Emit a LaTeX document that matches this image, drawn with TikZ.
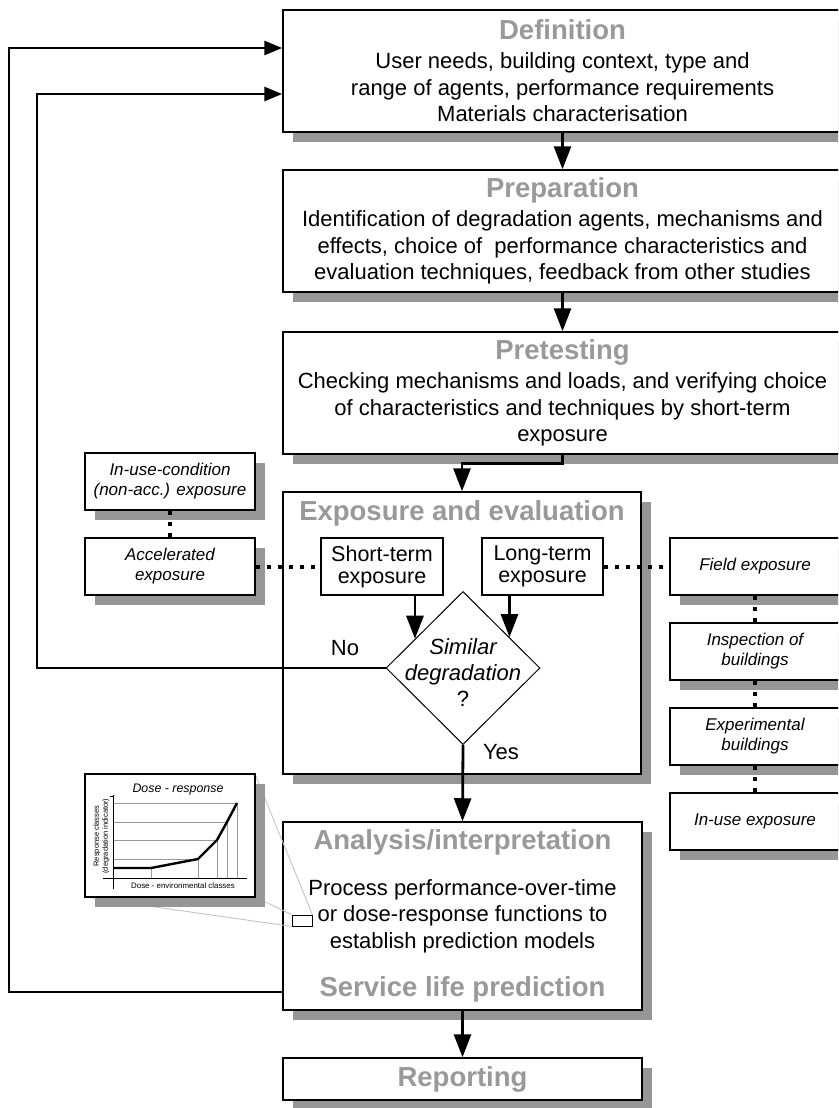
\documentclass[tikz,border=0pt]{standalone}
\usepackage{fontspec}
\setmainfont{Liberation Sans}
\usetikzlibrary{arrows.meta,shapes.geometric,shadows,calc}
\definecolor{titlegray}{HTML}{999999}
\definecolor{shadowgray}{HTML}{969696}
\definecolor{callgray}{HTML}{C4C4C4}
\definecolor{gridgray}{HTML}{9A9A9A}
\newcommand{\ttl}[1]{{\fontsize{27.5}{28}\selectfont\bfseries\color{titlegray}#1}}
\begin{document}
\begin{tikzpicture}[x=1pt,y=-1pt,
  box/.style={draw, line width=1.5pt, fill=white, inner sep=0pt, align=center,
    general shadow={fill=shadowgray, shadow xshift=10pt, shadow yshift=-10pt}},
  stage/.style={box, minimum width=559pt, minimum height=122pt,
    font=\fontsize{22}{26.5}\selectfont},
  panel/.style={box, minimum width=359pt, font=\fontsize{22}{26.5}\selectfont},
  sidebox/.style={box, minimum width=170pt, minimum height=57pt,
    font=\fontsize{17}{20}\selectfont\itshape},
  termbox/.style={draw, line width=1.5pt, fill=white, inner sep=0pt, align=center,
    minimum height=57pt, font=\fontsize{21.5}{22}\selectfont},
  arr/.style={line width=2.8pt, -{Triangle[length=23pt,width=17pt]}},
  backarr/.style={line width=2.8pt, -{Triangle[length=18pt,width=14pt]}},
  dots/.style={line width=4pt, dash pattern=on 4pt off 7pt},
  plain/.style={font=\fontsize{22}{26}\selectfont, inner sep=0pt, align=center},
]
\useasboundingbox (0,0) rectangle (838,1108);
\clip (0,0) rectangle (838,1108);

% rails for the feedback loops
\coordinate (railA) at (9,992);
\coordinate (railB) at (37,0);

% main stages
\node[stage] (def) at (562.5,71) {\ttl{Definition}\\[2.5pt]
  User needs, building context, type and\\
  range of agents, performance requirements\\
  Materials characterisation};
\node[stage] (prep) at (562.5,231) {\ttl{Preparation}\\[2.5pt]
  Identification of degradation agents, mechanisms and\\
  effects, choice of~ performance characteristics and\\
  evaluation techniques, feedback from other studies};
\node[stage] (pret) at (562.5,393) {\ttl{Pretesting}\\[2.5pt]
  Checking mechanisms and loads, and verifying choice\\
  of characteristics and techniques by short-term\\
  exposure};

% exposure and evaluation stage
\node[box, minimum width=358pt, minimum height=282pt] (exp) at (462,633) {};
\node[inner sep=0pt] (exptitle) at (462,513) {\ttl{Exposure and evaluation}};
\node[termbox, minimum width=122pt] (short) at (382,566.5) {Short-term\\exposure};
\node[termbox, minimum width=121pt] (long) at (542.5,566.5) {Long-term\\exposure};
\node[draw, diamond, line width=1pt, fill=white, inner sep=0pt,
  minimum width=154pt, minimum height=153pt] (sim) at (463,668) {};
\node[plain] (simtext) at (463,673) {\itshape Similar\\\itshape degradation\\?};
\node[plain, anchor=center] (no) at (345,648) {No};
\node[plain, anchor=center] (yes) at (501,752) {Yes};

% side boxes
\node[sidebox] (incond) at (170,481.5) {In-use-condition\\(non-acc.) exposure};
\node[sidebox] (acc) at (170,566.5) {Accelerated\\exposure};
\node[sidebox] (field) at (755,566.5) {Field exposure};
\node[sidebox] (insp) at (755,651.5) {Inspection of\\buildings};
\node[sidebox] (expb) at (755,736.5) {Experimental\\buildings};
\node[sidebox] (inuse) at (755,821.5) {In-use exposure};

% analysis and reporting
\node[panel, minimum height=188pt] (ana) at (462.5,916) {\ttl{Analysis/interpretation}\\[19pt]
  Process performance-over-time\\
  or dose-response functions to\\
  establish prediction models\\[22pt]
  \ttl{Service life prediction}};
\node[panel, minimum height=42pt] (rep) at (462.5,1079) {\ttl{Reporting}};

% magnified dose-response chart
\node[draw, line width=0.8pt, inner sep=0pt, minimum width=20pt, minimum height=11pt]
  (zoomrect) at (302,920.5) {};
\draw[callgray, line width=0.9pt] (zoomrect.north east) -- (255,774);
\draw[callgray, line width=0.9pt] (zoomrect.north west) -- (255,897);
\draw[callgray, line width=0.9pt] (zoomrect.south west) -- (85,897);
\node[box, minimum width=170pt, minimum height=123pt] (inset) at (170,835.5) {};
\node[inner sep=0pt, font=\fontsize{12.4}{13}\selectfont\itshape] (dtitle) at (178,790) {Dose - response};
\draw[gridgray, line width=0.9pt]
  (113,803) -- (237,803)  (113,822) -- (227,822)
  (113,840) -- (217,840)  (113,859) -- (198,859)
  (151,868) -- (151,878)  (198,859) -- (198,878)
  (217,840) -- (217,878)  (227,822) -- (227,878)
  (237,803) -- (237,878);
\draw[line width=0.9pt] (110,796) -- (113,796) (113,795) -- (113,889) (103,878) -- (247,878);
\draw[line width=2.4pt, line join=round]
  (113,868) -- (151,868) -- (198,859) -- (217,840) -- (227,822) -- (237,803);
\node[inner sep=0pt, font=\fontsize{7.9}{8.5}\selectfont] (dxlab) at (183,886)
  {Dose - environmental classes};
\node[inner sep=0pt, rotate=90, align=center, font=\fontsize{7.5}{9}\selectfont] (dylab)
  at (101.5,836) {Response classes\\(degradation indicator)};

% flow connectors
\draw[arr] (def.south) -- (prep.north);
\draw[arr] (prep.south) -- (pret.north);
\draw[arr] (pret.south) -- ++(0,9) -| (exp.north);
\coordinate (sA) at ($(sim.west)!0.38!(sim.north)$);
\coordinate (sB) at ($(sim.east)!0.40!(sim.north)$);
\draw[arr] (short.south -| sA) -- (sA);
\draw[arr] (long.south -| sB) -- (sB);
\draw[arr] (sim.south) -- (ana.north);
\draw[arr] (ana.south) -- (rep.north);

% feedback loops
\draw[backarr] (sim.west) -- (sim.west -| railB) |- ($(def.west)+(0,23)$);
\draw[backarr] (ana.west |- railA) -- (railA) |- ($(def.west)+(0,-23)$);

% exposure links
\draw[dots] (acc.east) -- (short.west);
\draw[dots] (long.east) -- (field.west);
\draw[dots] (incond.south) -- (acc.north);
\draw[dots] (field.south) -- (insp.north);
\draw[dots] (insp.south) -- (expb.north);
\draw[dots] (expb.south) -- (inuse.north);
\end{tikzpicture}
\end{document}
